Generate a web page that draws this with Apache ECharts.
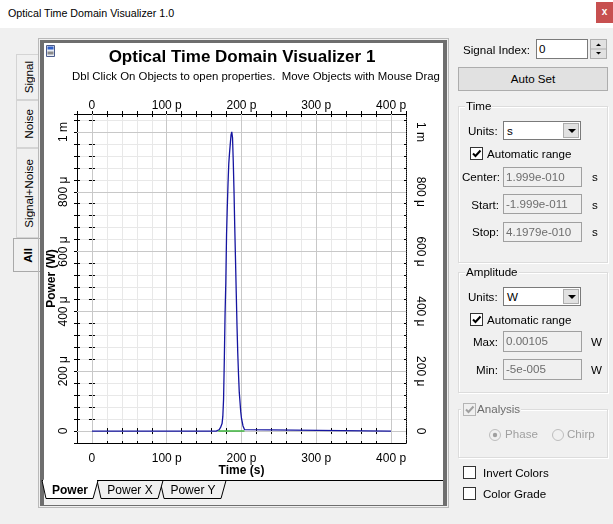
<!DOCTYPE html>
<html>
<head>
<meta charset="utf-8">
<title>Optical Time Domain Visualizer 1.0</title>
<script src="https://cdn.jsdelivr.net/npm/echarts@6/dist/echarts.min.js"></script>
<style>
* { box-sizing: border-box; }
body { margin: 0; width: 613px; height: 524px; background: #f0f0f0; position: relative; overflow: hidden;
       font-family: "Liberation Sans", Arial, sans-serif; font-size: 11.6px; color: #000; }
.abs { position: absolute; }
.lbl { position: absolute; line-height: 14px; white-space: nowrap; }
#titlebar { left: 0; top: 0; width: 613px; height: 28px; background: #fff; }
#titlebar span { position: absolute; left: 8px; top: 7px; font-family: "Liberation Sans", Arial, sans-serif; font-size: 10.7px; }
#closebtn { right: 0; top: 2px; width: 17px; height: 21px; background: #c75050; color: #fff; font-size: 10px;
            font-weight: bold; text-align: center; line-height: 20px; }
.vtab { position: absolute; background: #f0f0f0; border: 1px solid #d4d4d4; border-right: none;
        display: flex; align-items: center; justify-content: center; }
.vtab span { writing-mode: vertical-rl; transform: rotate(180deg); font-size: 11.6px; }
.vtab.sel { border-color: #a9a9a9; }
.vtab.sel span { font-weight: bold; }
.input { position: absolute; border: 1px solid #a0a0a0; background: #f0f0f0; color: #6d6d6d;
         line-height: 17px; padding-left: 2px; font-size: 11.6px; }
.input.on { background: #fff; color: #000; border-color: #7a7a7a; }
.btn { position: absolute; border: 1px solid #adadad; background: #e1e1e1; text-align: center; }
.group { position: absolute; border: 1px solid #dcdcdc; box-shadow: inset 1px 1px 0 #fff, 1px 1px 0 #fff; }
.legend { position: absolute; background: #f0f0f0; padding: 0 1px; line-height: 14px; }
.cb { position: absolute; width: 13px; height: 13px; border: 1px solid #333; background: #fff; }
.cb svg { position: absolute; left: 0; top: 0; }
.dd { position: absolute; border: 1px solid #7a7a7a; background: #fff; line-height: 17px; padding-left: 3px; }
.dd .arrow { position: absolute; right: 1px; top: 1px; width: 16px; height: 15px; background: #e1e1e1; border: 1px solid #adadad; }
.dd .arrow:after { content: ""; position: absolute; left: 4px; top: 5px; border-left: 4px solid transparent;
                   border-right: 4px solid transparent; border-top: 4px solid #000; }
#plot { position: absolute; left: 44px; top: 43px; width: 399px; height: 437px; background: #fff; }
</style>
</head>
<body>

<div id="titlebar" class="abs"><span>Optical Time Domain Visualizer 1.0</span></div>
<div id="closebtn" class="abs">x</div>

<!-- left side tabs -->
<div class="vtab" style="left:16px;top:54px;width:23px;height:46px"><span>Signal</span></div>
<div class="vtab" style="left:16px;top:100px;width:23px;height:48px"><span>Noise</span></div>
<div class="vtab" style="left:16px;top:148px;width:23px;height:90px"><span>Signal+Noise</span></div>
<div class="vtab sel" style="left:13px;top:238px;width:27px;height:34px"><span>All</span></div>

<!-- chart frame -->
<div class="abs" style="left:38px;top:38px;width:411px;height:470px;border:1px solid #b9b9b9"></div>
<div class="abs" style="left:40px;top:40px;width:407px;height:466px;border-left:4px solid #6e6e6e;border-top:3px solid #6e6e6e;border-right:4px solid #6e6e6e;border-bottom:1px solid #6e6e6e"></div>
<div id="plot"></div>

<!-- sheet tabs under the plot -->
<svg class="abs" style="left:0;top:0" width="613" height="524">
  <line x1="44" y1="480.5" x2="443" y2="480.5" stroke="#000" stroke-width="1"/>
  <polygon points="160,480.5 164,498.5 221,498.5 226,480.5" fill="#f0f0f0" stroke="#000" stroke-width="1"/>
  <polygon points="97,480.5 101,498.5 158,498.5 163,480.5" fill="#f0f0f0" stroke="#000" stroke-width="1"/>
  <polygon points="42,480.5 46,498.5 93,498.5 98,480.5" fill="#fff" stroke="#000" stroke-width="1"/>
  <line x1="43" y1="480.5" x2="97" y2="480.5" stroke="#fff" stroke-width="1.5"/>
  <text x="70" y="494" text-anchor="middle" font-family="Liberation Sans, Arial" font-size="12" font-weight="bold">Power</text>
  <text x="130" y="494" text-anchor="middle" font-family="Liberation Sans, Arial" font-size="12">Power X</text>
  <text x="193" y="494" text-anchor="middle" font-family="Liberation Sans, Arial" font-size="12">Power Y</text>
</svg>

<!-- right control panel -->
<div class="lbl" style="left:463px;top:43px">Signal Index:</div>
<div class="input on" style="left:536px;top:39px;width:52px;height:20px">0</div>
<div class="abs" style="left:590px;top:39px;width:17px;height:20px;border:1px solid #adadad;background:#e1e1e1">
  <svg width="15" height="18" style="position:absolute;left:0;top:0">
    <line x1="0" y1="9" x2="15" y2="9" stroke="#adadad"/>
    <polygon points="5,6 10,6 7.5,3.5" fill="#000"/>
    <polygon points="5,12 10,12 7.5,14.5" fill="#000"/>
  </svg>
</div>
<div class="btn" style="left:458px;top:67px;width:150px;height:24px;line-height:22px">Auto Set</div>

<div class="group" style="left:458px;top:106px;width:150px;height:157px"></div>
<div class="legend" style="left:465px;top:99px">Time</div>
<div class="lbl" style="left:468px;top:124px">Units:</div>
<div class="dd" style="left:503px;top:121px;width:78px;height:19px">s<div class="arrow"></div></div>
<div class="cb" style="left:470px;top:147px"><svg width="11" height="11"><path d="M2 5.5 L4.5 8 L9.5 2.5" stroke="#000" stroke-width="2" fill="none"/></svg></div>
<div class="lbl" style="left:487px;top:147px">Automatic range</div>
<div class="lbl" style="left:462px;top:170px;width:37px;text-align:right">Center:</div>
<div class="input" style="left:503px;top:167px;width:79px;height:20px">1.999e-010</div>
<div class="lbl" style="left:592px;top:170px">s</div>
<div class="lbl" style="left:462px;top:198px;width:37px;text-align:right">Start:</div>
<div class="input" style="left:503px;top:194px;width:79px;height:20px">-1.999e-011</div>
<div class="lbl" style="left:592px;top:198px">s</div>
<div class="lbl" style="left:462px;top:225px;width:37px;text-align:right">Stop:</div>
<div class="input" style="left:503px;top:222px;width:79px;height:20px">4.1979e-010</div>
<div class="lbl" style="left:592px;top:225px">s</div>

<div class="group" style="left:458px;top:272px;width:150px;height:121px"></div>
<div class="legend" style="left:465px;top:265px">Amplitude</div>
<div class="lbl" style="left:468px;top:290px">Units:</div>
<div class="dd" style="left:503px;top:287px;width:78px;height:19px">W<div class="arrow"></div></div>
<div class="cb" style="left:470px;top:313px"><svg width="11" height="11"><path d="M2 5.5 L4.5 8 L9.5 2.5" stroke="#000" stroke-width="2" fill="none"/></svg></div>
<div class="lbl" style="left:487px;top:313px">Automatic range</div>
<div class="lbl" style="left:462px;top:335px;width:36px;text-align:right">Max:</div>
<div class="input" style="left:503px;top:331px;width:79px;height:21px">0.00105</div>
<div class="lbl" style="left:591px;top:335px">W</div>
<div class="lbl" style="left:462px;top:363px;width:36px;text-align:right">Min:</div>
<div class="input" style="left:503px;top:359px;width:79px;height:21px">-5e-005</div>
<div class="lbl" style="left:591px;top:363px">W</div>

<div class="group" style="left:458px;top:409px;width:150px;height:49px"></div>
<div class="legend" style="left:461px;top:402px;padding-left:16px;color:#6d6d6d">Analysis</div>
<div class="cb" style="left:463px;top:403px;border-color:#b5b5b5;background:#f0f0f0"><svg width="11" height="11"><path d="M2 5.5 L4.5 8 L9.5 2.5" stroke="#a0a0a0" stroke-width="2" fill="none"/></svg></div>
<svg class="abs" style="left:488px;top:428px" width="14" height="14"><circle cx="7" cy="7" r="5.5" fill="#f0f0f0" stroke="#bcbcbc"/><circle cx="7" cy="7" r="2.2" fill="#a0a0a0"/></svg>
<div class="lbl" style="left:505px;top:427px;color:#a0a0a0">Phase</div>
<svg class="abs" style="left:551px;top:428px" width="14" height="14"><circle cx="7" cy="7" r="5.5" fill="#f0f0f0" stroke="#bcbcbc"/></svg>
<div class="lbl" style="left:567px;top:427px;color:#a0a0a0">Chirp</div>

<div class="cb" style="left:463px;top:466px"></div>
<div class="lbl" style="left:483px;top:466px">Invert Colors</div>
<div class="cb" style="left:463px;top:487px"></div>
<div class="lbl" style="left:483px;top:487px">Color Grade</div>

<script>
// Labelled ticks (time in ps, power in µW)
const timeTicks = [0, 100, 200, 300, 400];
const powerTicks = [0, 200, 400, 600, 800, 1000];

// Received pulse: time (ps) and power (µW)
const pulseTime  = [0, 166, 168, 170, 172, 174, 175, 176, 177, 178, 179, 180, 181, 182, 183, 184, 185, 186, 187,
                    188, 189, 190, 191, 192, 193, 194, 195, 196, 197, 198, 199, 200, 202, 204, 206, 400];
const pulsePower = [0, 0, 1, 4, 12, 25, 48, 105, 236, 389, 493, 656, 749, 829, 895, 930, 960, 990, 1000,
                    980, 900, 800, 680, 570, 460, 350, 260, 190, 130, 97, 64, 42, 17, 5, 0, 0];

// Noise trace (flat) under the pulse
const noiseTime  = [169, 204];
const noisePower = [0, 0];

// Axis ranges
const T_MIN = -20, T_MAX = 420, T_STEP = 20;
const P_MIN = -40, P_MAX = 1060, P_STEP = 40;

const labelFont = { fontFamily: 'Liberation Sans, Arial, sans-serif', fontSize: 12, color: '#000' };

function timeLabel(v) {
  if (!timeTicks.includes(v)) return '';
  return v === 0 ? '0' : v + ' p';
}
function powerLabel(v) {
  if (!powerTicks.includes(v)) return '';
  if (v === 0) return '0';
  return v >= 1000 ? (v / 1000) + ' m' : v + ' \u03bc';
}

function timeAxis(extra) {
  return Object.assign({
    type: 'value', min: T_MIN, max: T_MAX, interval: T_STEP,
    axisLine: { show: true, onZero: false, lineStyle: { color: '#000', width: 1 } },
    axisTick: { show: true, inside: false, length: 3, lineStyle: { color: '#000', width: 1 } },
    axisLabel: { show: false },
    splitLine: { show: false }
  }, extra);
}
function powerAxis(extra) {
  return Object.assign({
    type: 'value', min: P_MIN, max: P_MAX, interval: P_STEP,
    axisLine: { show: true, onZero: false, lineStyle: { color: '#000', width: 1 } },
    axisTick: { show: true, inside: false, length: 3, lineStyle: { color: '#000', width: 1 } },
    axisLabel: { show: false },
    splitLine: { show: false }
  }, extra);
}

const chart = echarts.init(document.getElementById('plot'), null, { renderer: 'canvas' });

const majorLines = timeTicks.map(v => ({ xAxis: v })).concat(powerTicks.map(v => ({ yAxis: v })));

chart.setOption({
  animation: false,
  backgroundColor: '#fff',
  title: [
    { text: 'Optical Time Domain Visualizer 1', left: 198, top: 6, textAlign: 'center', padding: 0,
      textStyle: { fontFamily: 'Liberation Sans, Arial, sans-serif', fontSize: 17, fontWeight: 'bold', color: '#000' } },
    { text: 'Dbl Click On Objects to open properties.  Move Objects with Mouse Drag', left: 212, top: 28,
      textAlign: 'center', padding: 0,
      textStyle: { fontFamily: 'Liberation Sans, Arial, sans-serif', fontSize: 11.4, fontWeight: 'normal', color: '#000' } }
  ],
  graphic: [
    { type: 'group', left: 2, top: 2, children: [
      { type: 'rect', shape: { x: 0, y: 0, width: 8, height: 11 }, style: { fill: '#e8ecf4', stroke: '#4a5a8a', lineWidth: 1 } },
      { type: 'rect', shape: { x: 1, y: 1, width: 6, height: 3 }, style: { fill: '#2f5fc8' } },
      { type: 'rect', shape: { x: 1, y: 6, width: 6, height: 3 }, style: { fill: '#8a8a8a' } }
    ] }
  ],
  grid: { left: 33, top: 71, width: 329, height: 329, containLabel: false, outerBoundsMode: 'none' },
  xAxis: [
    // bottom frame with labels and minor grid
    timeAxis({ position: 'bottom', name: 'Time (s)', nameLocation: 'middle', nameGap: 22, nameMoveOverlap: false,
      nameTextStyle: { fontFamily: 'Liberation Sans, Arial, sans-serif', fontSize: 12, fontWeight: 'bold', color: '#000' },
      axisTick: { show: true, inside: true, length: 2, lineStyle: { color: '#000' } },
      axisLabel: Object.assign({ show: true, margin: 10, formatter: timeLabel, showMinLabel: true, showMaxLabel: true }, labelFont),
      splitLine: { show: true, lineStyle: { color: '#e8e8e8', width: 1 } } }),
    // top frame, ticks outside + labels
    timeAxis({ position: 'top',
      axisLabel: Object.assign({ show: true, margin: 2, formatter: timeLabel }, labelFont) }),
    // top frame, ticks inside
    timeAxis({ position: 'top', axisTick: { show: true, inside: true, length: 3, lineStyle: { color: '#000' } } }),
    // zero-power line
    timeAxis({ position: 'bottom', axisLine: { show: true, onZero: true, onZeroAxisIndex: 0, lineStyle: { color: '#555', width: 1 } },
      axisTick: { show: true, inside: true, length: 3, lineStyle: { color: '#000' } } }),
    timeAxis({ position: 'bottom', axisLine: { show: false, onZero: true, onZeroAxisIndex: 0 },
      axisTick: { show: true, inside: false, length: 3, lineStyle: { color: '#000' } } })
  ],
  yAxis: [
    // left frame with labels, name and minor grid
    powerAxis({ position: 'left', name: 'Power (W)', nameLocation: 'middle', nameGap: 19, nameRotate: 90, nameMoveOverlap: false,
      nameTextStyle: { fontFamily: 'Liberation Sans, Arial, sans-serif', fontSize: 12, fontWeight: 'bold', color: '#000' },
      axisLabel: Object.assign({ show: true, margin: 7, rotate: 90, formatter: powerLabel }, labelFont),
      splitLine: { show: true, lineStyle: { color: '#e8e8e8', width: 1 } } }),
    powerAxis({ position: 'left', axisTick: { show: true, inside: true, length: 3, lineStyle: { color: '#000' } } }),
    // right frame (dotted) with labels
    powerAxis({ position: 'right', axisLine: { show: true, onZero: false, lineStyle: { color: '#000', type: 'dotted', width: 1 } },
      axisTick: { show: true, inside: true, length: 2, lineStyle: { color: '#000' } },
      axisLabel: Object.assign({ show: true, margin: 8, rotate: -90, formatter: powerLabel }, labelFont) }),
    // zero-time line
    powerAxis({ position: 'left', axisLine: { show: true, onZero: true, onZeroAxisIndex: 0, lineStyle: { color: '#000', width: 1 } },
      axisTick: { show: true, inside: true, length: 3, lineStyle: { color: '#000' } } }),
    powerAxis({ position: 'left', axisLine: { show: false, onZero: true, onZeroAxisIndex: 0 },
      axisTick: { show: true, inside: false, length: 3, lineStyle: { color: '#000' } } })
  ],
  series: [
    { name: 'major grid', type: 'line', xAxisIndex: 0, yAxisIndex: 0, data: [], z: 1, silent: true,
      markLine: { silent: true, symbol: ['none', 'none'], label: { show: false }, animation: false,
        lineStyle: { color: '#c8c8c8', type: 'solid', width: 1 }, emphasis: { disabled: true }, data: majorLines } },
    { name: 'Power', type: 'line', xAxisIndex: 0, yAxisIndex: 0, showSymbol: false, symbol: 'none', z: 5,
      data: pulseTime.map((t, i) => [t, pulsePower[i]]),
      lineStyle: { color: '#1515a0', width: 1.3 } },
    { name: 'Noise', type: 'line', xAxisIndex: 0, yAxisIndex: 0, showSymbol: false, symbol: 'none', z: 6,
      data: noiseTime.map((t, i) => [t, noisePower[i]]),
      lineStyle: { color: '#3cb43c', width: 1.5 } }
  ]
});
</script>
</body>
</html>
